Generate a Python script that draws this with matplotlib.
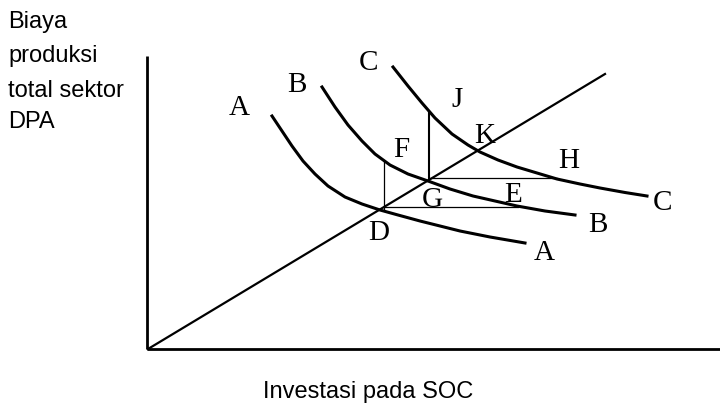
import matplotlib
matplotlib.use("Agg")
import matplotlib.pyplot as plt

# curves (x = investment in SOC, y = total cost)
curve_a_x = [124, 134, 144, 155, 167, 180, 197, 214, 232, 250, 272, 292, 312, 342, 377]
curve_a_y = [233, 218, 203, 188, 175, 163, 152, 145, 139, 134, 128, 123, 118, 112, 106]
curve_b_x = [174, 187, 200, 214, 227, 242, 260, 280, 302, 325, 347, 369, 397, 427]
curve_b_y = [262, 242, 224, 208, 195, 184, 175, 168, 160, 153, 148, 143, 138, 134]
curve_c_x = [245, 260, 274, 287, 304, 320, 332, 350, 369, 389, 409, 432, 452, 477, 499]
curve_c_y = [282, 263, 246, 231, 215, 204, 197, 189, 182, 176, 170, 165, 161, 156.5, 153]

# expansion path through D, G, K
path_x = [0, 457]
path_y = [0, 275]

# helper lines: (x0, y0, x1, y1, width)
helper_lines = [
    (236, 139, 236, 188, 0.9),   # D up to F
    (236, 142, 370, 142, 0.9),   # D across to E
    (281, 171, 409, 171, 0.9),   # G across to H
    (281, 169, 281, 237, 1.5),   # G up to J
]

# point / curve labels with baseline positions
labels = ["A", "B", "C", "J", "F", "G", "D", "K", "H", "E", "C", "B", "A"]
label_x = [91, 149, 220, 309, 253, 284, 231, 337, 421, 365, 514, 450, 396]
label_y = [235, 258, 280, 243, 193, 143, 110, 207, 182, 148, 140, 118, 90]

ylabel_lines = ["Biaya", "produksi", "total sektor", "DPA"]
ylabel_base = [322, 288, 253, 222]
xlabel = "Investasi pada SOC"

sans = ["Liberation Sans Narrow", "Liberation Sans", "DejaVu Sans"]
serif = ["Liberation Serif", "DejaVu Serif"]

fig = plt.figure(figsize=(7.2, 4.06), dpi=100)
ax = fig.add_axes([0, 0, 1, 1])
ax.set_xlim(-148, 572)
ax.set_ylim(-56, 350)
ax.axis("off")

# axes
ax.plot([-1, -1], [0, 293], color="black", lw=2.0, solid_capstyle="butt")
ax.plot([-1, 572], [0, 0], color="black", lw=2.0, solid_capstyle="butt")

ax.plot(path_x, path_y, color="black", lw=1.6)
for cx, cy in [(curve_a_x, curve_a_y), (curve_b_x, curve_b_y), (curve_c_x, curve_c_y)]:
    ax.plot(cx, cy, color="black", lw=2.2, solid_joinstyle="round")

for x0, y0, x1, y1, w in helper_lines:
    ax.plot([x0, x1], [y0, y1], color="black", lw=w)

for t, x, y in zip(labels, label_x, label_y):
    ax.text(x, y, t, family=serif, fontsize=21, ha="center", va="baseline")

for t, y in zip(ylabel_lines, ylabel_base):
    ax.text(-140, y, t, family=sans, fontsize=17, ha="left", va="baseline")

ax.text(220, -48, xlabel, family=sans, fontsize=17, ha="center", va="baseline")

fig.savefig("out.png", dpi=100)
